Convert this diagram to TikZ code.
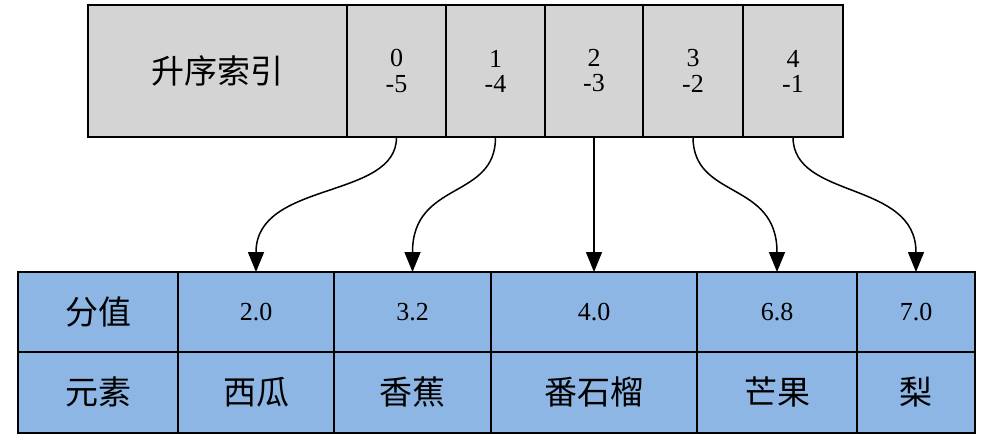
\documentclass[tikz,border=0pt]{standalone}
\usepackage{fontspec}
\setmainfont{Liberation Serif}
\newfontfamily\cjk{Noto Sans CJK SC}
\usetikzlibrary{arrows.meta}
\definecolor{cellgray}{HTML}{D4D4D4}
\definecolor{cellblue}{HTML}{8DB6E4}
\newcommand{\bignum}[1]{\scalebox{2.6}{\shortstack{#1}}}
\newcommand{\bigzh}[1]{\scalebox{3.3}{\cjk #1}}
\begin{document}
\begin{tikzpicture}[x=1pt,y=-1pt,
  conn/.style={-{Triangle[length=20pt,width=16pt]},line width=1.5pt}]
\useasboundingbox (0,0) rectangle (986,440);
% top table
\foreach \a/\b/\n in {88/347/t0,347/446/t1,446/545/t2,545/643/t3,643/743/t4,743/843/t5}{
  \draw[fill=cellgray,line width=1.4pt] (\a,5) rectangle (\b,137);
  \coordinate (\n) at ({(\a+\b)/2},137);
}
\node (lab) at (217.5,71) {\bigzh{升序索引}};
\node (i0) at (396.5,71) {\bignum{0\\-5}};
\node (i1) at (495.5,71) {\bignum{1\\-4}};
\node (i2) at (594,71) {\bignum{2\\-3}};
\node (i3) at (693,71) {\bignum{3\\-2}};
\node (i4) at (793,71) {\bignum{4\\-1}};
% bottom table
\foreach \a/\b/\n in {18/178/b0,178/334/b1,334/491/b2,491/697/b3,697/857/b4,857/975/b5}{
  \draw[fill=cellblue,line width=1.4pt] (\a,272) rectangle (\b,352);
  \draw[fill=cellblue,line width=1.4pt] (\a,352) rectangle (\b,433);
  \coordinate (\n) at ({(\a+\b)/2},272);
}
\node (fz) at (98,312) {\bigzh{分值}};
\node (ys) at (98,392) {\bigzh{元素}};
\node (v1) at (256,312) {\bignum{2.0}};
\node (v2) at (412.5,312) {\bignum{3.2}};
\node (v3) at (594,312) {\bignum{4.0}};
\node (v4) at (777,312) {\bignum{6.8}};
\node (v5) at (916,312) {\bignum{7.0}};
\node (e1) at (256,392) {\bigzh{西瓜}};
\node (e2) at (412.5,392) {\bigzh{香蕉}};
\node (e3) at (594,392) {\bigzh{番石榴}};
\node (e4) at (777,392) {\bigzh{芒果}};
\node (e5) at (916,392) {\bigzh{梨}};
% arrows
\draw[conn] (t1) .. controls (397,200) and (256,180) .. (b1);
\draw[conn] (t2) .. controls (496,200) and (412.5,180) .. (b2);
\draw[conn] (t3) -- (594,272);
\draw[conn] (t4) .. controls (693,200) and (777,180) .. (b4);
\draw[conn] (t5) .. controls (793,200) and (916,180) .. (b5);
\end{tikzpicture}
\end{document}
